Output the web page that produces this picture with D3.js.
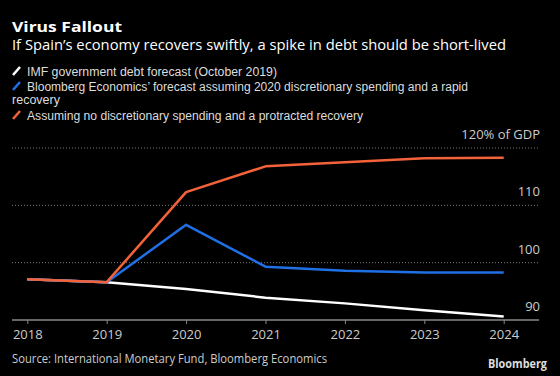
<!DOCTYPE html>
<html>
<head>
<meta charset="utf-8">
<script src="https://cdn.jsdelivr.net/npm/d3@7"></script>
<style>
  html, body { margin: 0; padding: 0; background: #000; }
  svg { display: block; font-family: "Open Sans", sans-serif; }
</style>
</head>
<body>
<div id="chart"></div>
<script>
    // Data
    const years = ["2018", "2019", "2020", "2021", "2022", "2023", "2024"];
    const imfForecast = [97.1, 96.6, 95.4, 93.9, 92.9, 91.7, 90.6];
    const bloombergRapid = [97.1, 96.6, 106.6, 99.3, 98.6, 98.3, 98.3];
    const noSpendingProtracted = [97.1, 96.6, 112.3, 116.8, 117.5, 118.2, 118.3];
    const yTicks = [90, 100, 110, 120];

    const seriesNames = [
        "IMF government debt forecast (October 2019)",
        "Bloomberg Economics\u2019 forecast assuming 2020 discretionary spending and a rapid recovery",
        "Assuming no discretionary spending and a protracted recovery"
    ];
    const colors = ["#ffffff", "#1f6fe5", "#f4623a"];

    const W = 560, H = 376;
    const svg = d3.select("#chart")
        .append("svg")
        .attr("width", W)
        .attr("height", H);

    // fit a text element to a target width
    function fit(sel, w) {
        sel.attr("textLength", w).attr("lengthAdjust", "spacingAndGlyphs");
        return sel;
    }

    // Title + subtitle
    fit(svg.append("text").attr("x", 12).attr("y", 32)
        .attr("fill", "#fff").attr("font-size", 15).attr("font-weight", "bold")
        .text("Virus Fallout"), 110);
    fit(svg.append("text").attr("x", 12).attr("y", 50)
        .attr("fill", "#fff").attr("font-size", 14)
        .text("If Spain\u2019s economy recovers swiftly, a spike in debt should be short-lived"), 494);

    // Legend (second entry wraps onto two lines)
    const legend = [
        { y: 76, w: [250], i: 0 },
        { y: 91, w: [441, 48], i: 1 },
        { y: 120, w: [336], i: 2 }
    ];
    const legendFont = "Liberation Sans, Arial, sans-serif";
    legend.forEach(d => {
        svg.append("line")
            .attr("x1", 13).attr("y1", d.y - 1)
            .attr("x2", 20).attr("y2", d.y - 9)
            .attr("stroke", colors[d.i]).attr("stroke-width", 2.5);
        const t = svg.append("text")
            .attr("y", d.y)
            .attr("fill", "#ddd")
            .attr("font-size", 12)
            .attr("font-family", legendFont);
        const name = seriesNames[d.i];
        if (d.w.length === 1) {
            fit(t.attr("x", 27).text(name), d.w[0]);
        } else {
            const cut = name.lastIndexOf(" ");
            fit(t.append("tspan").attr("x", 27).text(name.slice(0, cut)), d.w[0]);
            fit(t.append("tspan").attr("x", 12).attr("dy", 13).text(name.slice(cut + 1)), d.w[1]);
        }
    });

    // Scales
    const x = d3.scalePoint().domain(years).range([27.3, 503.7]);
    const y = d3.scaleLinear().domain([90, 120]).range([320, 148]);

    // Gridlines
    svg.append("g")
        .selectAll("line")
        .data(yTicks.filter(t => t > 90))
        .enter().append("line")
        .attr("x1", 12).attr("x2", 539)
        .attr("y1", d => y(d)).attr("y2", d => y(d))
        .attr("stroke", "#777")
        .attr("stroke-width", 1)
        .attr("stroke-dasharray", "1,2");

    // Y labels (above gridlines, right aligned)
    svg.append("g")
        .selectAll("text")
        .data(yTicks)
        .enter().append("text")
        .attr("x", 540)
        .attr("y", d => y(d) - 9)
        .attr("text-anchor", "end")
        .attr("fill", "#ccc")
        .attr("font-size", 13)
        .text(d => d === 120 ? "120% of GDP" : d);

    // X axis
    const xAxis = svg.append("g")
        .attr("transform", `translate(0,${y(90)})`)
        .call(d3.axisBottom(x).tickSize(4).tickPadding(6));
    xAxis.select(".domain").attr("d", "M12,0H539").attr("stroke", "#888").attr("stroke-width", 1.5);
    xAxis.selectAll(".tick line").attr("stroke", "#888");
    xAxis.selectAll(".tick text")
        .attr("fill", "#ccc")
        .attr("font-size", 13)
        .attr("font-family", "Open Sans, sans-serif");

    // Lines
    const line = d3.line()
        .x((d, i) => x(years[i]))
        .y(d => y(d));

    [imfForecast, bloombergRapid, noSpendingProtracted].forEach((s, i) => {
        svg.append("path")
            .datum(s)
            .attr("fill", "none")
            .attr("stroke", colors[i])
            .attr("stroke-width", 2.5)
            .attr("stroke-linejoin", "round")
            .attr("d", line);
    });

    // Footer
    fit(svg.append("text").attr("x", 12).attr("y", 363)
        .attr("fill", "#ccc").attr("font-size", 12.5)
        .text("Source: International Monetary Fund, Bloomberg Economics"), 315);
    fit(svg.append("text").attr("x", 547).attr("y", 368)
        .attr("text-anchor", "end")
        .attr("fill", "#ddd").attr("font-size", 13).attr("font-weight", "bold")
        .text("Bloomberg"), 59);
</script>
</body>
</html>
